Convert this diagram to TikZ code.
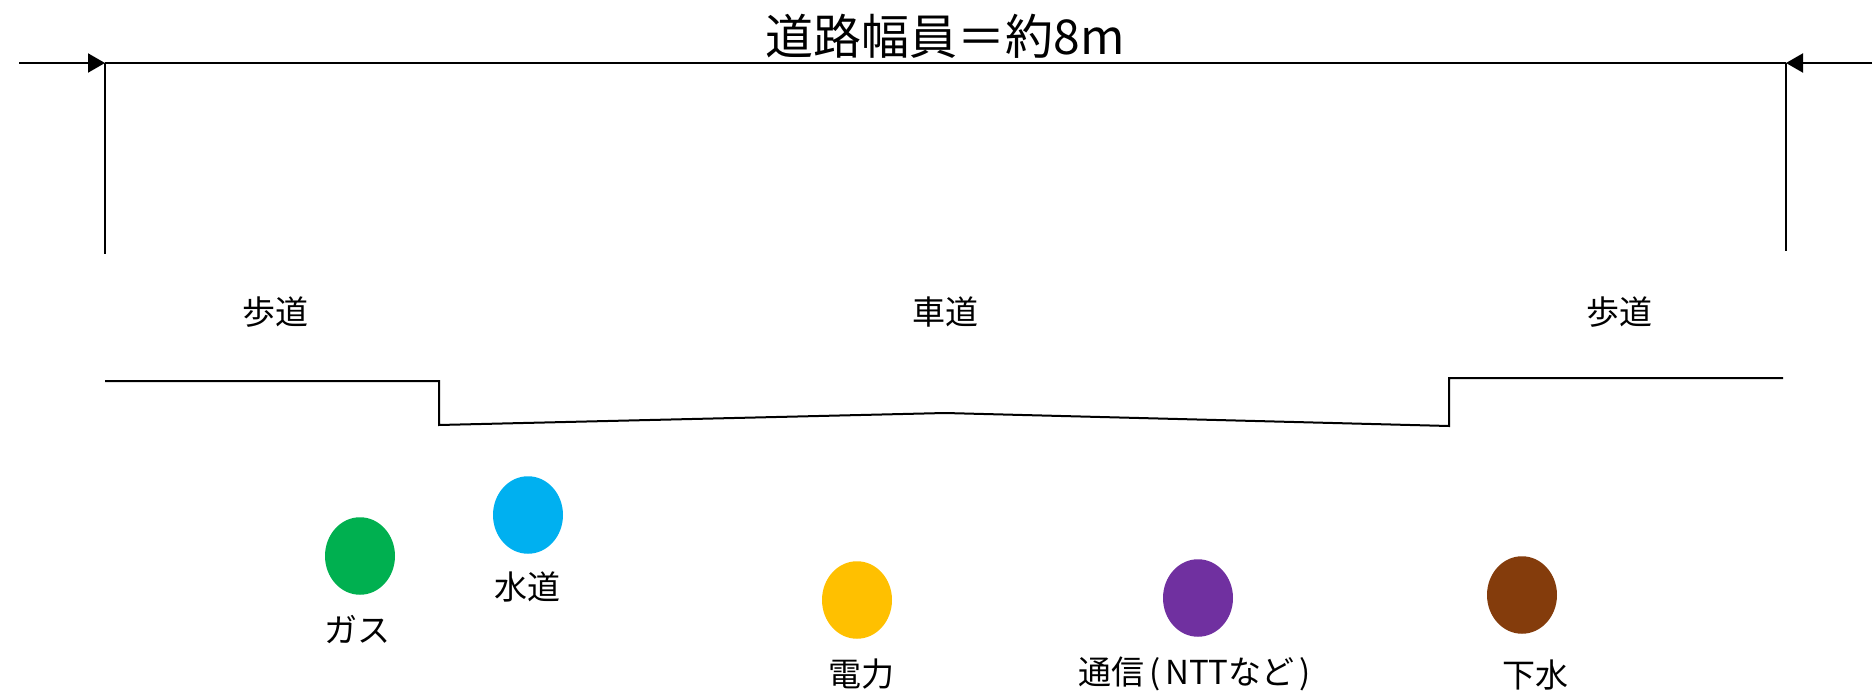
\documentclass[tikz,border=0pt]{standalone}
\usepackage{fontspec}
\setmainfont{Noto Sans CJK JP}
\usetikzlibrary{arrows.meta,shapes.geometric}
\definecolor{gasgreen}{HTML}{00B050}
\definecolor{waterblue}{HTML}{00B0F0}
\definecolor{poweryellow}{HTML}{FFC000}
\definecolor{telpurple}{HTML}{7030A0}
\definecolor{sewerbrown}{HTML}{843C0C}
\tikzset{
  ln/.style={line width=0.8pt, black},
  dimarrow/.style={ln, -{Triangle[length=6.8pt,width=7.6pt]}},
  pipe/.style={ellipse, draw=none, minimum width=28pt, minimum height=31pt, inner sep=0pt},
  lbl/.style={font=\fontsize{13.2pt}{15pt}\selectfont, inner sep=0pt},
  titlelbl/.style={font=\fontsize{19.2pt}{22pt}\selectfont, inner sep=0pt}
}
\begin{document}
\begin{tikzpicture}[x=0.4pt,y=-0.4pt]
\useasboundingbox (0,0) rectangle (1876,693);
% dimension line
\coordinate (l0) at (19,63);
\coordinate (lt) at (105,63);
\coordinate (rt) at (1786,63);
\coordinate (r0) at (1872,63);
\coordinate (lb) at (105,254);
\coordinate (rb) at (1786,251);
\draw[dimarrow] (l0) -- (lt);
\draw[ln] (lt) -- (rt);
\draw[dimarrow] (r0) -- (rt);
\draw[ln] (lt) -- (lb);
\draw[ln] (rt) -- (rb);
\node[titlelbl] (title) at (945,36) {道路幅員＝約8m};
% road profile
\coordinate (s1) at (105,381);
\coordinate (s2) at (439,381);
\coordinate (s3) at (439,425);
\coordinate (c)  at (945,413);
\coordinate (s4) at (1449,426);
\coordinate (s5) at (1449,378);
\coordinate (s6) at (1783,378);
\draw[ln] (s1) -- (s2) -- (s3) -- (c) -- (s4) -- (s5) -- (s6);
% area labels
\node[lbl] (walkL) at (275,312) {歩道};
\node[lbl] (road)  at (945,312) {車道};
\node[lbl] (walkR) at (1619,312) {歩道};
% pipes
\node[pipe, fill=gasgreen]    (gas)   at (360,556) {};
\node[pipe, fill=waterblue]   (water) at (528,515) {};
\node[pipe, fill=poweryellow] (power) at (857,600) {};
\node[pipe, fill=telpurple]   (tel)   at (1198,598) {};
\node[pipe, fill=sewerbrown]  (sewer) at (1522,595) {};
% pipe labels
\node[lbl] (gasl)   at (357,630) {ガス};
\node[lbl] (waterl) at (527,587) {水道};
\node[lbl] (powerl) at (861,674) {電力};
\node[lbl] (tell)   at (1197,674) {通信\kern2pt(\kern2pt NTTなど\kern2pt)\kern2pt};
\node[lbl] (sewerl) at (1535,675) {下水};
\end{tikzpicture}
\end{document}
